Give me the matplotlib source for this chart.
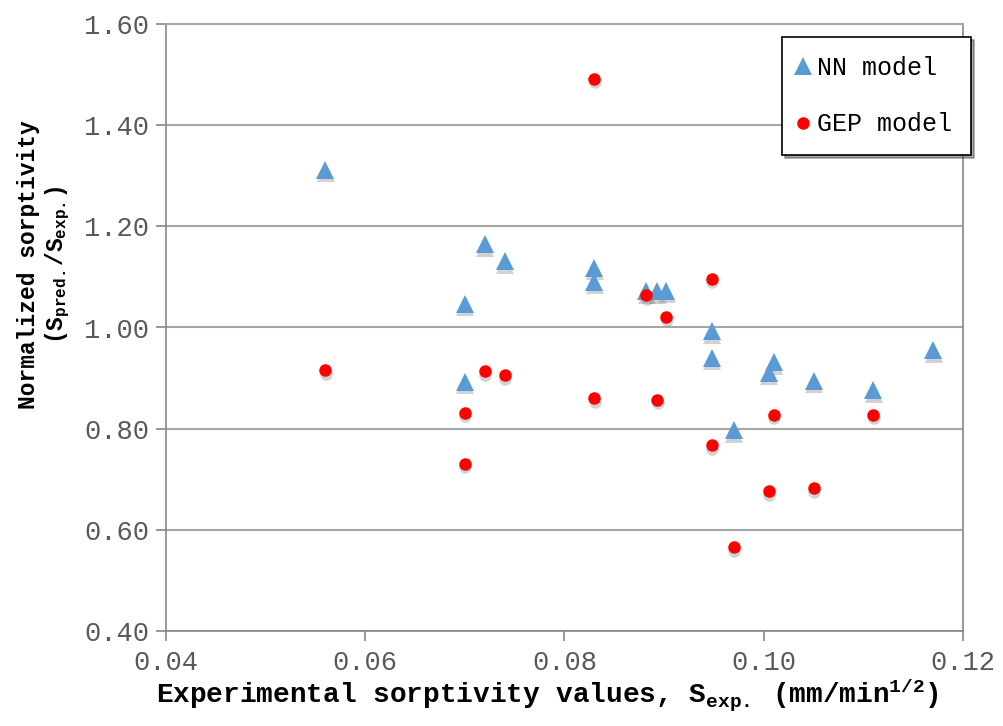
import matplotlib
matplotlib.use("Agg")
import matplotlib.pyplot as plt
import matplotlib.transforms as mtransforms

plt.rcParams["font.family"] = ["Liberation Mono", "DejaVu Sans"]
plt.rcParams["mathtext.fontset"] = "custom"
plt.rcParams["mathtext.rm"] = "Liberation Mono"
plt.rcParams["mathtext.it"] = "Liberation Mono"
plt.rcParams["mathtext.bf"] = "Liberation Mono:bold"

# Experimental sorptivity (mm/min^1/2) and normalized predictions
nn_x = [0.056, 0.070, 0.070, 0.072, 0.074, 0.083, 0.083, 0.0882, 0.0893, 0.0902,
        0.0948, 0.0948, 0.097, 0.1005, 0.101, 0.105, 0.111, 0.117]
nn_y = [1.312, 1.047, 0.893, 1.165, 1.131, 1.118, 1.090, 1.072, 1.072, 1.073,
        0.993, 0.940, 0.797, 0.911, 0.931, 0.895, 0.876, 0.955]

gep_x = [0.056, 0.070, 0.070, 0.072, 0.074, 0.083, 0.083, 0.0882, 0.0893, 0.0902,
         0.0948, 0.0948, 0.097, 0.1005, 0.101, 0.105, 0.111]
gep_y = [0.915, 0.831, 0.731, 0.914, 0.906, 1.492, 0.860, 1.064, 0.857, 1.021,
         1.096, 0.767, 0.566, 0.676, 0.828, 0.682, 0.828]

x_ticks = [0.04, 0.06, 0.08, 0.10, 0.12]
y_ticks = [0.40, 0.60, 0.80, 1.00, 1.20, 1.40, 1.60]

fig = plt.figure(figsize=(10.04, 7.26), dpi=100)
ax_w, ax_h = 963 - 166, 631 - 24
ax = fig.add_axes([166 / 1004, 1 - 631 / 726, ax_w / 1004, ax_h / 726])

ax.set_xlim(0.04, 0.12)
ax.set_ylim(0.40, 1.60)

ax.yaxis.grid(True, color="#A6A6A6", linewidth=1.5)
ax.set_axisbelow(True)

# soft drop shadows under the markers
shadow = mtransforms.offset_copy(ax.transData, fig=fig, x=0.5, y=-3.5, units="dots")
ax.plot(nn_x, nn_y, linestyle="none", marker="^", markersize=12.5,
        color="#7F7F7F", alpha=0.35, markeredgewidth=0, transform=shadow)
ax.plot(gep_x, gep_y, linestyle="none", marker="o", markersize=9,
        color="#7F7F7F", alpha=0.35, markeredgewidth=0, transform=shadow)

ax.plot(nn_x, nn_y, linestyle="none", marker="^", markersize=12.5,
        color="#5B9BD5", markeredgewidth=0, label="NN model")
ax.plot(gep_x, gep_y, linestyle="none", marker="o", markersize=9,
        color="#FF0000", markeredgewidth=0, label="GEP model")

ax.set_xticks(x_ticks)
ax.set_xticklabels([f"{v:.2f}" for v in x_ticks])
ax.set_yticks(y_ticks)
ax.set_yticklabels([f"{v:.2f}" for v in y_ticks])

ax.tick_params(axis="both", direction="out", length=7, width=1.2,
               color="#868686", labelcolor="#595959", labelsize=19.5)
ax.tick_params(axis="x", pad=7)
ax.tick_params(axis="y", pad=5)

for side in ["left", "bottom", "right", "top"]:
    ax.spines[side].set_color("#868686")
    ax.spines[side].set_linewidth(1.2)
ax.spines["top"].set_color("#A6A6A6")
ax.spines["top"].set_linewidth(1.5)

ax.set_xlabel(r"Experimental sorptivity values, $\mathbf{S_{exp.}}$ (mm/min$^{\mathbf{1/2}}$)",
              fontsize=20, fontweight="bold")
ax.xaxis.set_label_coords((547 - 166) / ax_w, -(676 - 631) / ax_h)
ax.set_ylabel("Normalized sorptivity\n" + r"($\mathbf{S_{pred.}}$/$\mathbf{S_{exp.}}$)",
              fontsize=16.5, fontweight="bold", multialignment="center")
ax.yaxis.set_label_coords(-(166 - 72) / ax_w, (631 - 265) / ax_h)

leg = ax.legend(loc="upper right",
                bbox_to_anchor=((971 - 166) / ax_w, 1 - (37 - 24) / ax_h),
                borderaxespad=0.0,
                fontsize=18, frameon=True, fancybox=False, shadow=True,
                handletextpad=0.45, handlelength=0.2, labelspacing=1.3,
                borderpad=0.75, markerscale=1.0)
leg.get_frame().set_edgecolor("#000000")
leg.get_frame().set_linewidth(1.2)

fig.savefig("out.png", dpi=100)
